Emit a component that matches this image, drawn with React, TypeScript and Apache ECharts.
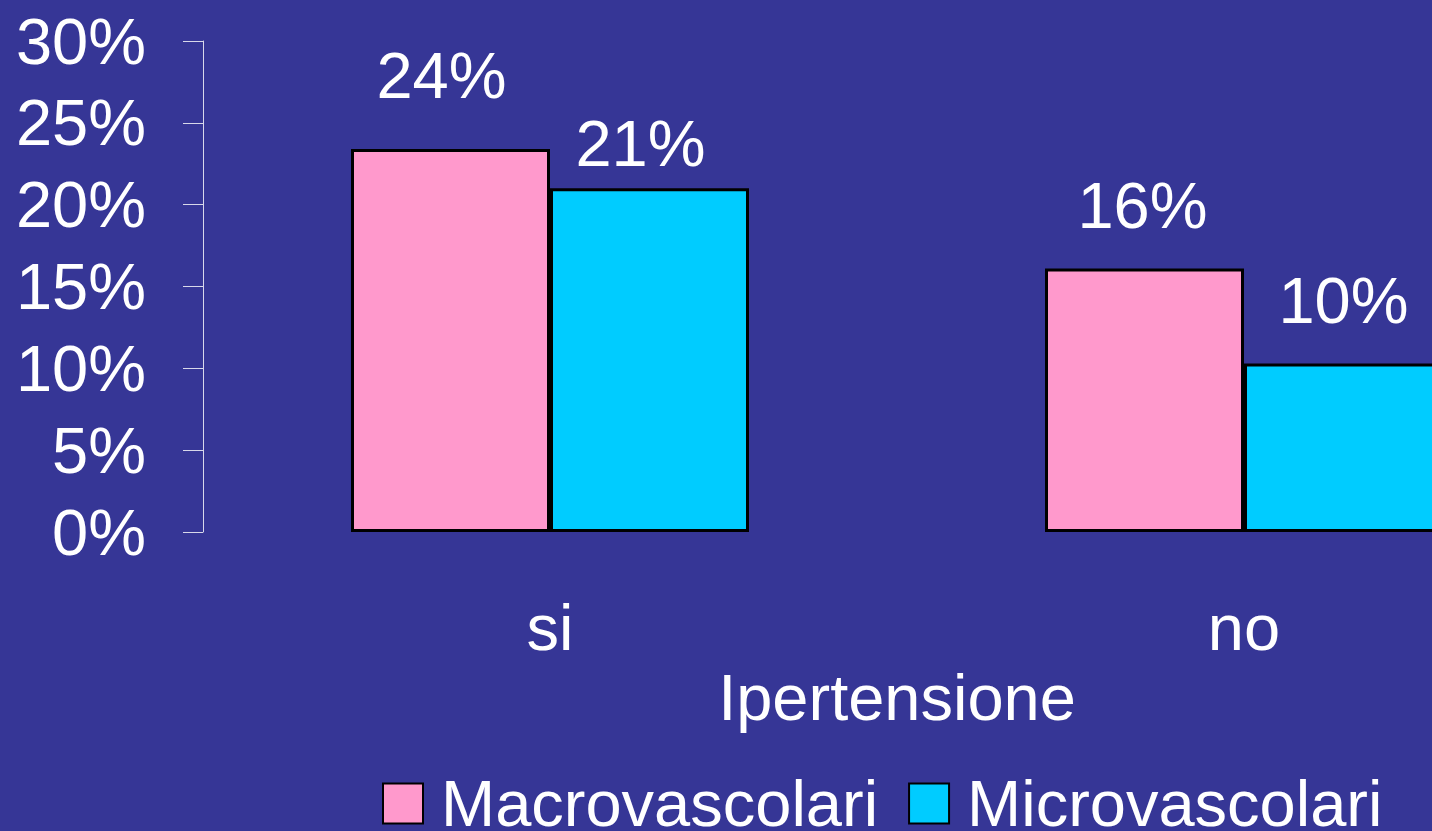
import React, { useEffect, useRef } from "react";
import * as echarts from "echarts";

const categories = ["si", "no"];
const macroValues = [23.4, 16.1];
const microValues = [21.0, 10.3];
const macroLabels = ["24%", "16%"];
const microLabels = ["21%", "10%"];
const yTicks = [0, 5, 10, 15, 20, 25, 30];

const FONT = "'Liberation Sans', Arial, sans-serif";
const FS = 65;

export default function App() {
  const ref = useRef<HTMLDivElement>(null);
  useEffect(() => {
    if (!ref.current) return;
    const chart = echarts.init(ref.current, undefined, { renderer: "svg" });
    const labelOffsets = (name: string, i: number) => {
      if (name === "macro") return i === 0 ? [-9, -11] : [-2, 0];
      return i === 0 ? [-9, 18] : [0, 0];
    };
    const mkData = (vals: number[], labels: string[], name: string) =>
      vals.map((v, i) => ({
        value: v,
        label: { formatter: labels[i], offset: labelOffsets(name, i) },
      }));
    chart.setOption({
      animation: false,
      backgroundColor: "#363696",
      textStyle: { fontFamily: FONT },
      grid: { left: 203, top: 41, width: 1388, height: 491 },
      legend: {
        left: 377,
        top: 766,
        itemWidth: 40,
        itemHeight: 40,
        itemGap: 30,
        icon: "rect",
        textStyle: {
          color: "#ffffff",
          fontSize: FS,
          fontFamily: FONT,
          padding: [0, 0, 0, 13],
        },
        data: ["Macrovascolari", "Microvascolari"],
      },
      xAxis: {
        type: "category",
        data: categories,
        axisLine: { show: false },
        axisTick: { show: false },
        axisLabel: { color: "#ffffff", fontSize: FS, fontFamily: FONT, margin: 63 },
        name: "Ipertensione",
        nameLocation: "middle",
        nameGap: 126,
        nameTextStyle: { color: "#ffffff", fontSize: FS, fontFamily: FONT },
      },
      yAxis: {
        type: "value",
        min: yTicks[0],
        max: yTicks[yTicks.length - 1],
        interval: 5,
        splitLine: { show: false },
        axisLine: { show: true, lineStyle: { color: "#d8d8ea", width: 1 } },
        axisTick: { show: true, length: 20, lineStyle: { color: "#d8d8ea", width: 1 } },
        axisLabel: {
          color: "#ffffff",
          fontSize: FS,
          fontFamily: FONT,
          margin: 57,
          formatter: (v: number) => `${v}%`,
        },
      },
      series: [
        {
          name: "Macrovascolari",
          type: "bar",
          barWidth: 199,
          barGap: 0,
          data: mkData(macroValues, macroLabels, "macro"),
          itemStyle: { color: "#ff99cc", borderColor: "#000000", borderWidth: 3 },
          label: {
            show: true,
            position: "top",
            distance: 30,
            color: "#ffffff",
            fontSize: FS,
            fontFamily: FONT,
          },
        },
        {
          name: "Microvascolari",
          type: "bar",
          barWidth: 199,
          barGap: 0,
          data: mkData(microValues, microLabels, "micro"),
          itemStyle: { color: "#00ccff", borderColor: "#000000", borderWidth: 3 },
          label: {
            show: true,
            position: "top",
            distance: 30,
            color: "#ffffff",
            fontSize: FS,
            fontFamily: FONT,
          },
        },
      ],
    });
    return () => chart.dispose();
  }, []);
  return (
    <div style={{ position: "fixed", left: 0, top: 0, width: 1432, height: 831, overflow: "hidden" }}>
      <div ref={ref} style={{ width: 1600, height: 831 }} />
    </div>
  );
}
